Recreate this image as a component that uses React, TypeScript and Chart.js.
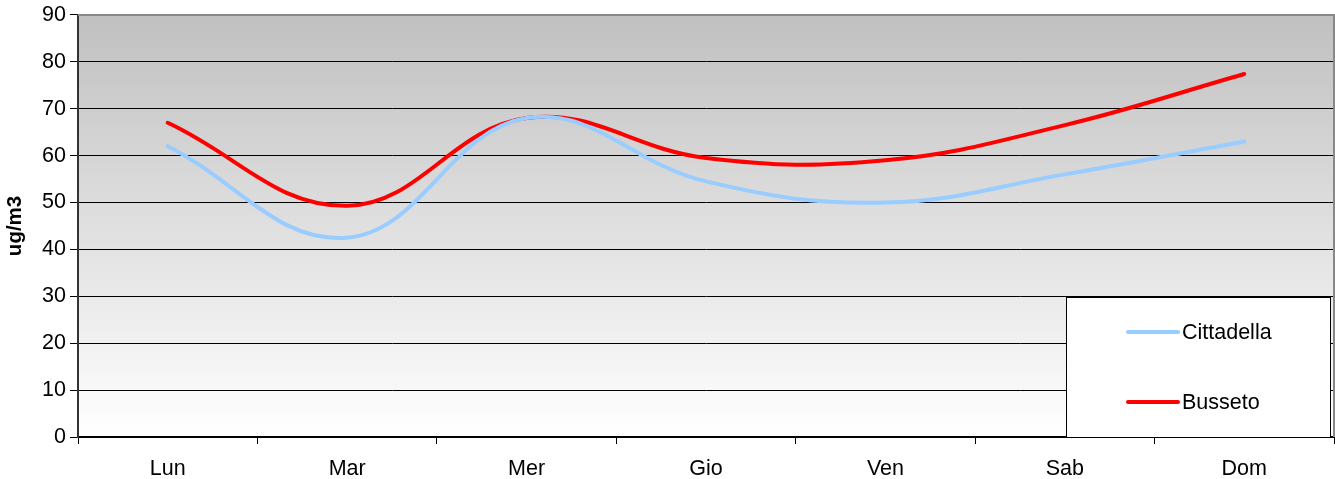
import React, { useEffect, useRef } from "react";
import { Chart, registerables } from "chart.js";

Chart.register(...registerables);

const categories = ["Lun", "Mar", "Mer", "Gio", "Ven", "Sab", "Dom"];
const cittadella = [62, 42.5, 68, 54.5, 50, 56, 63];
const busseto = [67, 49.3, 68, 59.5, 59, 66.5, 77.4];
const seriesNames = ["Cittadella", "Busseto"];
const seriesColors = ["#99ccff", "#ff0000"];
const yTitle = "ug/m3";

const FONT = "'Liberation Sans', Arial, sans-serif";
const FS = 21.5;

const bgPlugin = {
  id: "bgPlugin",
  beforeDraw(chart: any) {
    const { ctx, chartArea } = chart;
    if (!chartArea) return;
    const g = ctx.createLinearGradient(0, chartArea.top, 0, chartArea.bottom);
    g.addColorStop(0, "#c0c0c0");
    g.addColorStop(1, "#ffffff");
    ctx.save();
    ctx.fillStyle = g;
    ctx.fillRect(chartArea.left, chartArea.top, chartArea.right - chartArea.left, chartArea.bottom - chartArea.top);
    ctx.restore();
  },
  beforeDatasetsDraw(chart: any) {
    const { ctx, chartArea } = chart;
    ctx.save();
    ctx.strokeStyle = "#888888";
    ctx.lineWidth = 2;
    ctx.beginPath();
    ctx.moveTo(chartArea.left, chartArea.top);
    ctx.lineTo(chartArea.right, chartArea.top);
    ctx.lineTo(chartArea.right, chartArea.bottom);
    ctx.stroke();
    ctx.restore();
  },
  afterDatasetsDraw(chart: any) {
    const { ctx, chartArea } = chart;
    const w = 264;
    const h = 140;
    const x = chartArea.right - 268;
    const y = chartArea.bottom - h;
    ctx.save();
    ctx.fillStyle = "#ffffff";
    ctx.fillRect(x, y, w, h);
    ctx.strokeStyle = "#000000";
    ctx.lineWidth = 1;
    ctx.strokeRect(x + 0.5, y + 0.5, w, h);
    ctx.font = `${FS}px ${FONT}`;
    ctx.textBaseline = "middle";
    const rows = [y + 35, y + 105];
    seriesNames.forEach((name, i) => {
      ctx.strokeStyle = seriesColors[i];
      ctx.lineWidth = 4;
      ctx.lineCap = "round";
      ctx.beginPath();
      ctx.moveTo(x + 62, rows[i]);
      ctx.lineTo(x + 112, rows[i]);
      ctx.stroke();
      ctx.fillStyle = "#000000";
      ctx.fillText(name, x + 116, rows[i] + 1);
    });
    ctx.restore();
  },
};

export default function App() {
  const ref = useRef<HTMLCanvasElement | null>(null);
  useEffect(() => {
    document.body.style.margin = "0";
    const chart = new Chart(ref.current as HTMLCanvasElement, {
      type: "line",
      data: {
        labels: categories,
        datasets: [
          {
            label: seriesNames[0],
            data: cittadella,
            borderColor: seriesColors[0],
            borderWidth: 4,
            pointRadius: 0,
            tension: 0.4,
            fill: false,
            borderCapStyle: "round",
          },
          {
            label: seriesNames[1],
            data: busseto,
            borderColor: seriesColors[1],
            borderWidth: 4,
            pointRadius: 0,
            tension: 0.4,
            fill: false,
            borderCapStyle: "round",
          },
        ],
      },
      options: {
        animation: false,
        responsive: false,
        maintainAspectRatio: false,
        layout: { padding: { top: 0, right: 1, left: 0, bottom: 0 } },
        plugins: { legend: { display: false }, tooltip: { enabled: false } },
        scales: {
          x: {
            type: "category",
            offset: true,
            afterFit: (s: any) => {
              s.height = 42;
            },
            grid: {
              offset: true,
              drawOnChartArea: false,
              drawTicks: true,
              tickLength: 7,
              color: "#000000",
            },
            border: { display: true, color: "#000000", width: 2 },
            ticks: {
              font: { family: FONT, size: FS },
              color: "#000000",
              padding: 12,
              maxRotation: 0,
            },
          },
          y: {
            min: 0,
            max: 90,
            afterFit: (s: any) => {
              s.width = 78;
            },
            ticks: {
              stepSize: 10,
              font: { family: FONT, size: FS },
              color: "#000000",
              padding: 4,
            },
            grid: { color: "#000000", lineWidth: 1, tickLength: 8 },
            border: { display: true, color: "#333333", width: 2 },
            title: {
              display: true,
              text: yTitle,
              font: { family: FONT, size: 20.5, weight: "bold" },
              color: "#000000",
              padding: { top: 3, bottom: 10 },
            },
          },
        },
      },
      plugins: [bgPlugin],
    } as any);
    return () => chart.destroy();
  }, []);
  return (
    <div style={{ width: 1335, height: 479, overflow: "hidden" }}>
      <canvas ref={ref} width={1335} height={481} style={{ display: "block", marginTop: -2 }} />
    </div>
  );
}
